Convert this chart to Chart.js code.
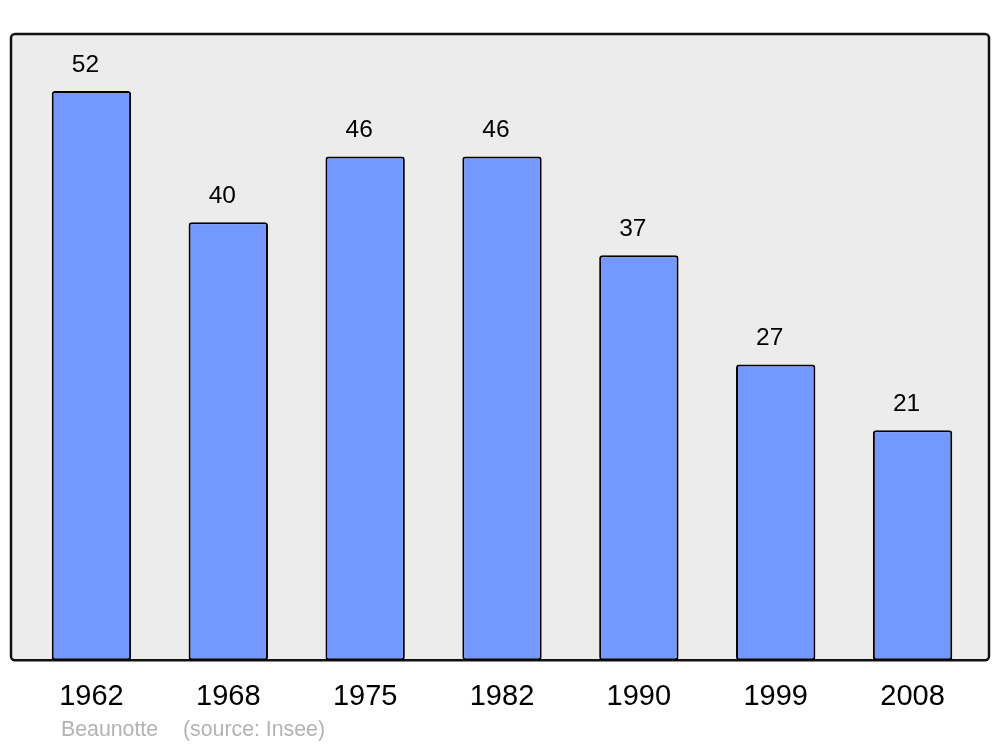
<!DOCTYPE html>
<html>
<head>
<meta charset="utf-8">
<script src="https://cdn.jsdelivr.net/npm/chart.js@4/dist/chart.umd.min.js"></script>
<style>
  html, body { margin: 0; padding: 0; background: #ffffff; }
  #wrap { width: 1000px; height: 747px; position: relative; }
</style>
</head>
<body>
<div id="wrap"><canvas id="popChart" width="1000" height="747"></canvas></div>
<script>
// population data
const years = ['1962', '1968', '1975', '1982', '1990', '1999', '2008'];
const population = [52, 40, 46, 46, 37, 27, 21];
const placeName = 'Beaunotte';
const sourceText = '(source: Insee)';

// gray panel with rounded black border behind the bars
const panelPlugin = {
  id: 'panel',
  beforeDatasetsDraw(chart) {
    const a = chart.chartArea;
    const ctx = chart.ctx;
    ctx.save();
    ctx.beginPath();
    ctx.roundRect(a.left - 12, a.top, (a.right + 8) - (a.left - 12), a.bottom - a.top, 4);
    ctx.fillStyle = '#ececec';
    ctx.fill();
    ctx.lineWidth = 2.5;
    ctx.strokeStyle = '#111111';
    ctx.stroke();
    ctx.restore();
  }
};

// values above bars + source line
const labelPlugin = {
  id: 'barLabels',
  afterDatasetsDraw(chart) {
    const ctx = chart.ctx;
    const meta = chart.getDatasetMeta(0);
    ctx.save();
    ctx.font = '24.5px "Liberation Sans", Arial, sans-serif';
    ctx.fillStyle = '#000000';
    ctx.textAlign = 'center';
    ctx.textBaseline = 'middle';
    meta.data.forEach((bar, i) => {
      ctx.fillText(String(population[i]), bar.x - 6, bar.y - 26);
    });
    ctx.font = '21.3px "Liberation Sans", Arial, sans-serif';
    ctx.fillStyle = '#b3b3b3';
    ctx.textAlign = 'left';
    ctx.fillText(placeName, 61, 730);
    ctx.fillText(sourceText, 183, 730);
    ctx.restore();
  }
};

const ctx = document.getElementById('popChart').getContext('2d');
const popChart = new Chart(ctx, {
  type: 'bar',
  data: {
    labels: years,
    datasets: [{
      data: population,
      backgroundColor: '#7399ff',
      borderColor: '#000000',
      borderWidth: 2,
      borderRadius: 3,
      borderSkipped: false,
      barPercentage: 0.58,
      categoryPercentage: 1.0
    }]
  },
  options: {
    responsive: false,
    animation: false,
    devicePixelRatio: 1,
    layout: {
      padding: { left: 23, right: 19, top: 34, bottom: 22 }
    },
    plugins: {
      legend: { display: false },
      tooltip: { enabled: false }
    },
    scales: {
      x: {
        grid: { display: false },
        border: { display: false },
        ticks: {
          color: '#000000',
          padding: 11,
          autoSkip: false,
          maxRotation: 0,
          font: { family: '"Liberation Sans", Arial, sans-serif', size: 29 }
        }
      },
      y: {
        display: false,
        min: 0,
        max: 57.2
      }
    }
  },
  plugins: [panelPlugin, labelPlugin]
});
</script>
</body>
</html>
